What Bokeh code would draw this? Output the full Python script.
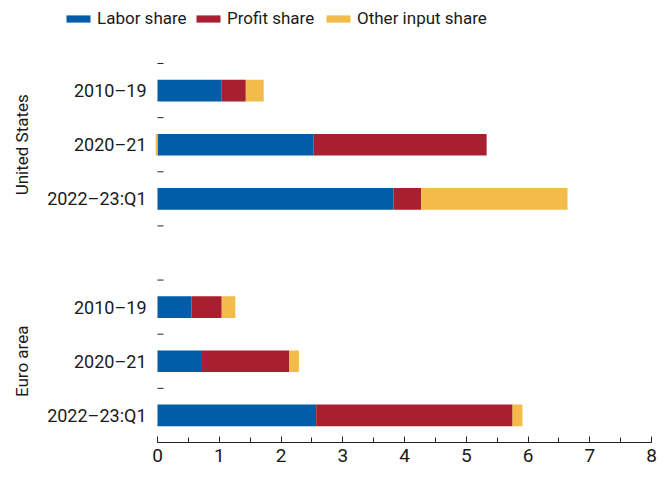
import math
from bokeh.plotting import figure
from bokeh.models import (Range1d, Legend, LegendItem, ColumnDataSource,
                          SingleIntervalTicker)
from bokeh.core.properties import value
from bokeh.embed import file_html
from bokeh.resources import INLINE

# ---- data ----
groups = ["United States", "Euro area"]
periods = ["2010–19", "2020–21", "2022–23:Q1"]
series_names = ["Labor share", "Profit share", "Other input share"]
series_colors = ["#005DA6", "#A81F2F", "#F2BB4A"]

us_labor = [1.04, 2.53, 3.82]
us_profit = [0.39, 2.80, 0.45]
us_other = [0.29, -0.03, 2.37]

ea_labor = [0.55, 0.72, 2.57]
ea_profit = [0.49, 1.41, 3.18]
ea_other = [0.22, 0.16, 0.16]

x_ticks = [0, 1, 2, 3, 4, 5, 6, 7, 8]

# ---- layout / style constants ----
FONT = "Roboto"
TXT = "#1a1a1a"
W, H = 662, 470
BOTTOM = 28           # space for the x axis
RIGHT = 11
PLOT_LEFT_PX = 157    # where x = 0 sits
PLOT_TOP_PX = 63      # top of the bar area
FRAME_W = W - RIGHT
FRAME_H = H - BOTTOM

values = {
    "United States": [us_labor, us_profit, us_other],
    "Euro area": [ea_labor, ea_profit, ea_other],
}

n = len(periods)
gap = 1
n_slots = len(groups) * n + (len(groups) - 1) * gap

label_y, label_txt = [], []
grp_y, grp_txt = [], []
rows = []
boundaries = []
for gi, g in enumerate(groups):
    base = (len(groups) - 1 - gi) * (n + gap)
    for i, per in enumerate(periods):
        y = base + (n - 1 - i) + 0.5
        label_y.append(y)
        label_txt.append(per)
        rows.append((y, [values[g][s][i] for s in range(len(series_names))]))
    grp_y.append(base + n / 2.0)
    grp_txt.append(g)
    for k in range(n + 1):
        if base + k > 0:
            boundaries.append(base + k)

# stack: positives right of zero, negatives left of zero
sources = [dict(y=[], left=[], right=[]) for _ in series_names]
for y, vals in rows:
    pos, neg = 0.0, 0.0
    for s, v in enumerate(vals):
        if v >= 0:
            l, r = pos, pos + v
            pos = r
        else:
            l, r = neg + v, neg
            neg = l
        sources[s]["y"].append(y)
        sources[s]["left"].append(l)
        sources[s]["right"].append(r)

# ranges: the frame covers the whole canvas except the bottom axis strip,
# so labels/legend drawn inside the frame are not clipped.
x_span = x_ticks[-1] - x_ticks[0]
px_per_x = (FRAME_W - PLOT_LEFT_PX) / x_span
x_start = x_ticks[0] - PLOT_LEFT_PX / px_per_x
px_per_y = (FRAME_H - PLOT_TOP_PX) / n_slots
y_end = n_slots + PLOT_TOP_PX / px_per_y

p = figure(width=W, height=H,
           x_range=Range1d(x_start, x_ticks[-1]),
           y_range=Range1d(0, y_end),
           y_axis_location=None,
           output_backend="svg", toolbar_location=None,
           min_border_left=0, min_border_top=0,
           min_border_right=RIGHT, min_border_bottom=BOTTOM)
p.outline_line_color = None
p.xgrid.visible = False
p.ygrid.visible = False
p.background_fill_color = "white"

renderers = []
for s, name in enumerate(series_names):
    r = p.hbar(y="y", left="left", right="right", height=0.4,
               source=ColumnDataSource(sources[s]),
               fill_color=series_colors[s], line_color=None)
    renderers.append(r)

# small category separator ticks on the value axis origin
p.ray(x=[x_ticks[0]] * len(boundaries), y=boundaries, length=6,
      length_units="screen", angle=0, line_color="#222222", line_width=1)

# period labels
p.text(x=[x_ticks[0]] * len(label_y), y=label_y, text=label_txt,
       x_offset=-11, text_align="right", text_baseline="middle",
       text_font=value(FONT), text_font_size=value("18px"), text_color=TXT)

# group labels (vertical)
p.text(x=[x_start] * len(grp_y), y=grp_y, text=grp_txt, x_offset=21,
       angle=math.pi / 2, text_align="center", text_baseline="middle",
       text_font=value(FONT), text_font_size=value("17px"), text_color=TXT)

# x axis
xa = p.xaxis[0]
xa.bounds = (x_ticks[0], x_ticks[-1])
xa.ticker = SingleIntervalTicker(interval=1, num_minor_ticks=2)
xa.axis_line_color = "#222222"
xa.major_tick_line_color = "#222222"
xa.minor_tick_line_color = "#222222"
xa.major_tick_in = 6
xa.major_tick_out = 0
xa.minor_tick_in = 5
xa.minor_tick_out = 0
xa.major_label_text_font = FONT
xa.major_label_text_font_size = "19px"
xa.major_label_text_color = TXT
xa.major_label_standoff = 6

legend = Legend(items=[LegendItem(label=nm, renderers=[r]) for nm, r in zip(series_names, renderers)],
                orientation="horizontal", location=(63, FRAME_H - 28))
legend.glyph_width = 30
legend.glyph_height = 9
legend.label_standoff = 4
legend.label_width = 96
legend.spacing = 0
legend.padding = 0
legend.margin = 0
legend.border_line_color = None
legend.background_fill_alpha = 0
legend.label_text_font = FONT
legend.label_text_font_size = "17px"
legend.label_text_color = TXT
p.add_layout(legend, "center")

open("out.html", "w").write(file_html(p, INLINE))
